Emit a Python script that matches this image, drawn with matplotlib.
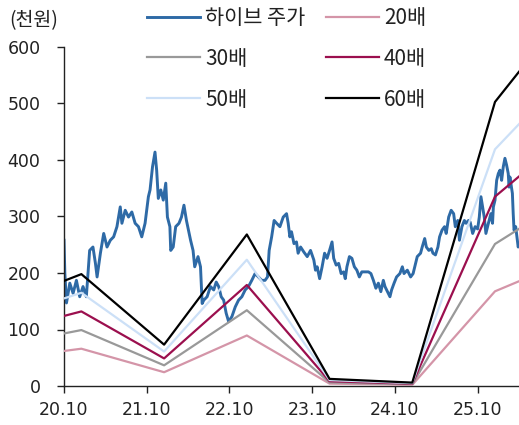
import matplotlib
matplotlib.use("Agg")
import matplotlib.pyplot as plt

plt.rcParams['font.family'] = ['DejaVu Sans', 'Noto Sans CJK KR']

# ---- data ----
price_t = [2020.79, 2020.80, 2020.82, 2020.86, 2020.90, 2020.94, 2020.98, 2021.02, 2021.06, 2021.08,
           2021.10, 2021.14, 2021.17, 2021.19, 2021.23, 2021.27, 2021.31, 2021.35, 2021.39, 2021.43,
           2021.47, 2021.49, 2021.53, 2021.57, 2021.61, 2021.65, 2021.69, 2021.73, 2021.77, 2021.81,
           2021.83, 2021.86, 2021.89, 2021.91, 2021.93, 2021.96, 2021.99, 2022.02, 2022.04, 2022.07,
           2022.08, 2022.11, 2022.14, 2022.18, 2022.21, 2022.24, 2022.27, 2022.29, 2022.32, 2022.35,
           2022.37, 2022.41, 2022.44, 2022.46, 2022.48, 2022.52, 2022.56, 2022.60, 2022.63, 2022.66,
           2022.69, 2022.72, 2022.75, 2022.78, 2022.82, 2022.86, 2022.90, 2022.94, 2022.98, 2023.02,
           2023.06, 2023.10, 2023.14, 2023.18, 2023.22, 2023.25, 2023.27, 2023.30, 2023.33, 2023.36,
           2023.40, 2023.44, 2023.48, 2023.50, 2023.52, 2023.54, 2023.57, 2023.60, 2023.62, 2023.65,
           2023.69, 2023.73, 2023.77, 2023.81, 2023.83, 2023.85, 2023.88, 2023.91, 2023.94, 2023.97,
           2024.00, 2024.03, 2024.05, 2024.08, 2024.11, 2024.14, 2024.17, 2024.19, 2024.21, 2024.24,
           2024.27, 2024.30, 2024.33, 2024.36, 2024.39, 2024.43, 2024.47, 2024.50, 2024.53, 2024.56,
           2024.59, 2024.62, 2024.65, 2024.67, 2024.70, 2024.73, 2024.75, 2024.78, 2024.81, 2024.85,
           2024.88, 2024.90, 2024.94, 2024.98, 2025.01, 2025.04, 2025.06, 2025.10, 2025.12, 2025.15,
           2025.17, 2025.20, 2025.23, 2025.25, 2025.28, 2025.31, 2025.33, 2025.36, 2025.39, 2025.41,
           2025.44, 2025.47, 2025.50, 2025.52, 2025.55, 2025.57, 2025.60, 2025.63, 2025.65, 2025.68,
           2025.70, 2025.73, 2025.76, 2025.79, 2025.81, 2025.83, 2025.85, 2025.87, 2025.89, 2025.92,
           2025.95, 2025.97, 2025.98, 2026.00, 2026.02, 2026.04, 2026.06, 2026.08, 2026.10, 2026.12,
           2026.14, 2026.16, 2026.17, 2026.18, 2026.21, 2026.22, 2026.23, 2026.25, 2026.27, 2026.28,
           2026.29]
price_v = [258, 200, 147, 182, 164, 187, 158, 176, 158, 199,
           240, 246, 217, 193, 235, 270, 246, 258, 264, 282,
           317, 288, 311, 299, 308, 288, 282, 264, 288, 335,
           347, 388, 414, 382, 332, 347, 329, 359, 299, 282,
           240, 246, 282, 288, 299, 320, 293, 279, 258, 240,
           211, 229, 211, 146, 152, 158, 176, 170, 184, 176,
           158, 152, 129, 114, 123, 140, 152, 158, 170, 176,
           187, 199, 193, 187, 187, 193, 240, 264, 293, 288,
           282, 299, 305, 288, 264, 273, 252, 255, 235, 246,
           237, 229, 240, 223, 205, 211, 190, 211, 235, 226,
           240, 255, 226, 214, 217, 199, 202, 190, 211, 229,
           226, 211, 205, 193, 202, 202, 202, 199, 187, 173,
           182, 167, 187, 176, 167, 158, 170, 182, 193, 199,
           211, 199, 205, 193, 199, 217, 229, 235, 246, 261,
           246, 240, 243, 235, 232, 246, 264, 276, 282, 270,
           299, 311, 305, 282, 293, 258, 282, 293, 288, 293,
           290, 270, 282, 278, 299, 335, 317, 299, 270, 288,
           305, 288, 317, 329, 364, 376, 382, 364, 388, 403,
           391, 376, 352, 370, 341, 305, 276, 282, 258, 246,
           250]

band_t = [2020.79, 2021.00, 2022.00, 2023.00, 2024.00, 2025.00, 2026.00, 2026.29]
eps = [3.10, 3.30, 1.22, 4.47, 0.21, 0.10, 8.38, 9.27]   # 천원
multiples = [20, 30, 40, 50, 60]
band_labels = ['20배', '30배', '40배', '50배', '60배']
band_colors = ['#D495A8', '#999999', '#9B0F4E', '#CCE0F7', '#000000']
price_label = '하이브 주가'
price_color = '#2E6AA6'

tick_pos = [2020.79, 2021.79, 2022.79, 2023.79, 2024.79, 2025.79]
tick_labels = ['20.10', '21.10', '22.10', '23.10', '24.10', '25.10']
y_ticks = [0, 100, 200, 300, 400, 500, 600]

# ---- figure ----
fig = plt.figure(figsize=(5.19, 4.25), dpi=100)
ax = fig.add_axes([64/519, 1-386/425, 1-64/519, (386-47)/425])

handles = {}
ph, = ax.plot(price_t, price_v, color=price_color, lw=2.1, zorder=2)
handles[price_label] = ph
for m, lab, col in zip(multiples, band_labels, band_colors):
    h, = ax.plot(band_t, [e*m for e in eps], color=col, lw=1.6, zorder=3)
    handles[lab] = h

ax.set_xlim(2020.79, 2026.29)
ax.set_ylim(0, 600)
ax.set_yticks(y_ticks)
ax.set_xticks(tick_pos)
ax.set_xticklabels(tick_labels)
for s in ['top', 'right']:
    ax.spines[s].set_visible(False)
for s in ['left', 'bottom']:
    ax.spines[s].set_color('#222222')
    ax.spines[s].set_linewidth(1.0)
ax.tick_params(axis='y', direction='out', length=5, width=1, pad=12, labelsize=12.5, colors='#222222')
ax.tick_params(axis='x', direction='out', length=5, width=1, pad=6, labelsize=12.5, colors='#222222')

fig.text(9/519, 1-21/425, '(천원)', fontsize=14, va='center', ha='left', color='#222222',
         family=['Noto Sans CJK KR', 'DejaVu Sans'])

leg_prop = {'family': ['Noto Sans CJK KR', 'DejaVu Sans'], 'size': 15}
columns = [([price_label, '30배', '50배'], 147), (['20배', '40배', '60배'], 326)]
for labels, x0 in columns:
    leg = fig.legend([handles[k] for k in labels], labels, loc='upper left',
                     bbox_to_anchor=(x0/519, 1-7/425), frameon=False, prop=leg_prop,
                     handlelength=2.55, handletextpad=0.24,
                     labelspacing=0.9, borderpad=0, borderaxespad=0)
    for t in leg.get_texts():
        t.set_color('#222222')

fig.savefig('out.png', dpi=100)
